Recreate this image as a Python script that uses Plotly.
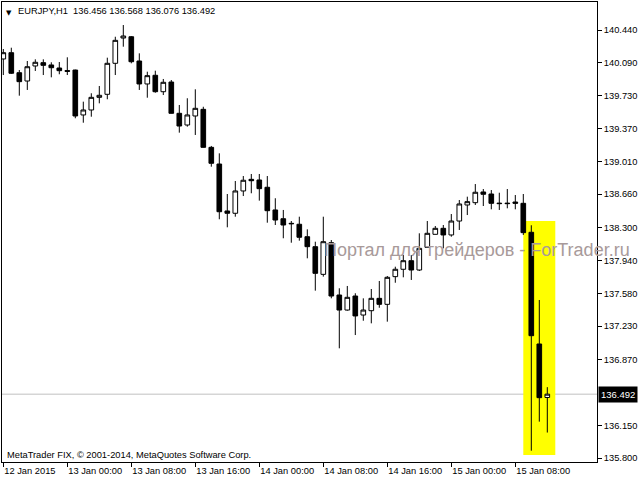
import plotly.graph_objects as go

# ---- data (EURJPY, H1), bars indexed left to right ----
bar_index = list(range(69))

opens = [140.126, 140.194, 139.977, 139.887, 140.050, 140.086, 140.061, 140.028, 140.000, 140.006,
         139.519, 139.573, 139.710, 139.743, 140.079, 140.353, 140.367, 140.104, 139.855, 139.949,
         139.771, 139.876, 139.537, 139.410, 139.508, 139.580, 139.168, 138.987, 138.478, 138.453,
         138.695, 138.821, 138.814, 138.735, 138.489, 138.394, 138.344, 138.334, 138.199, 138.091,
         137.791, 138.134, 137.567, 137.404, 137.556, 137.350, 137.397, 137.531, 137.466, 137.766,
         137.846, 137.939, 137.838, 138.084, 138.225, 138.290, 138.218, 138.369, 138.543, 138.568,
         138.684, 138.662, 138.563, 138.563, 138.575, 138.561, 138.247, 137.036, 136.456]
highs = [140.234, 140.248, 140.006, 140.104, 140.122, 140.122, 140.090, 140.093, 140.144, 140.010,
         139.663, 139.754, 139.833, 140.140, 140.367, 140.494, 140.375, 140.187, 139.988, 139.999,
         139.909, 139.898, 139.627, 139.700, 139.797, 139.608, 139.183, 139.103, 138.662, 138.803,
         138.857, 138.879, 138.879, 138.857, 138.616, 138.489, 138.369, 138.416, 138.279, 138.145,
         138.416, 138.163, 137.640, 137.665, 137.586, 137.531, 137.632, 137.719, 137.773, 137.874,
         138.001, 138.001, 138.236, 138.369, 138.315, 138.326, 138.445, 138.597, 138.633, 138.770,
         138.716, 138.705, 138.676, 138.716, 138.651, 138.662, 138.323, 137.513, 136.568]
lows = [139.952, 139.963, 139.728, 139.790, 139.996, 139.952, 139.927, 139.960, 139.952, 139.483,
        139.435, 139.500, 139.645, 139.689, 139.952, 140.259, 140.079, 139.790, 139.706, 139.760,
        139.735, 139.535, 139.327, 139.392, 139.302, 139.166, 138.958, 138.388, 138.301, 138.416,
        138.640, 138.670, 138.590, 138.351, 138.326, 138.182, 138.134, 138.156, 137.965, 137.614,
        137.766, 137.531, 136.989, 137.397, 137.133, 137.288, 137.260, 137.429, 137.278, 137.700,
        137.759, 137.730, 137.827, 138.080, 138.223, 138.073, 138.199, 138.272, 138.434, 138.543,
        138.532, 138.496, 138.489, 138.507, 138.496, 138.218, 135.879, 136.194, 136.076]
closes = [140.194, 139.971, 139.880, 140.042, 140.090, 140.057, 140.031, 139.999, 139.992, 139.508,
          139.573, 139.710, 139.732, 140.079, 140.328, 140.375, 140.096, 139.855, 139.945, 139.771,
          139.873, 139.537, 139.399, 139.519, 139.591, 139.168, 138.995, 138.470, 138.453, 138.695,
          138.811, 138.806, 138.720, 138.481, 138.380, 138.326, 138.340, 138.193, 138.091, 137.802,
          138.145, 137.556, 137.404, 137.542, 137.340, 137.404, 137.531, 137.466, 137.759, 137.846,
          137.939, 137.838, 138.073, 138.236, 138.290, 138.218, 138.369, 138.554, 138.579, 138.681,
          138.659, 138.561, 138.558, 138.558, 138.561, 138.243, 137.126, 136.454, 136.492]

time_tick_bars = [0, 8, 16, 24, 32, 40, 48, 56, 64]
time_tick_labels = ["12 Jan 2015", "13 Jan 00:00", "13 Jan 08:00", "13 Jan 16:00", "14 Jan 00:00",
                    "14 Jan 08:00", "14 Jan 16:00", "15 Jan 00:00", "15 Jan 08:00"]
price_ticks = [140.440, 140.090, 139.730, 139.370, 139.010, 138.660, 138.300, 137.940,
               137.580, 137.230, 136.870, 136.150, 135.800]
current_price = 136.492
highlight_bars = [65, 69]
highlight_prices = [135.833, 138.369]

symbol_text = "EURJPY,H1  136.456 136.568 136.076 136.492"
copyright_text = "MetaTrader FIX, © 2001-2014, MetaQuotes Software Corp."
watermark_text = "Портал для трейдеров - ForTrader.ru"

FONT = "Liberation Sans"

fig = go.Figure(go.Candlestick(
    x=bar_index, open=opens, high=highs, low=lows, close=closes,
    increasing=dict(line=dict(color="black", width=1), fillcolor="white"),
    decreasing=dict(line=dict(color="black", width=1), fillcolor="black"),
    whiskerwidth=0, hoverinfo="skip", showlegend=False,
))

fig.add_shape(type="rect", xref="x", yref="y",
              x0=highlight_bars[0], x1=highlight_bars[1],
              y0=highlight_prices[0], y1=highlight_prices[1],
              fillcolor="#ffff00", line=dict(width=0), layer="below")
fig.add_shape(type="line", xref="paper", yref="y", x0=0, x1=1,
              y0=current_price, y1=current_price,
              line=dict(color="#c0c0c0", width=1), layer="below")

ann = []
ann.append(dict(xref="paper", yref="y", x=1, y=current_price, xanchor="left", yanchor="middle",
                text=f"{current_price:.3f}", showarrow=False, bgcolor="black",
                font=dict(family=FONT, size=9.5, color="white"), borderpad=2, xshift=1))
ann.append(dict(xref="paper", yref="paper", x=0, y=1, xanchor="left", yanchor="top",
                text="▼", showarrow=False, xshift=2, yshift=-5,
                font=dict(family="DejaVu Sans", size=7, color="black")))
ann.append(dict(xref="paper", yref="paper", x=0, y=1, xanchor="left", yanchor="top",
                text=symbol_text, showarrow=False, xshift=14, yshift=-2,
                font=dict(family=FONT, size=9.3, color="black")))
ann.append(dict(xref="paper", yref="paper", x=0, y=0, xanchor="left", yanchor="bottom",
                text=copyright_text, showarrow=False, xshift=3, yshift=0,
                font=dict(family=FONT, size=9.3, color="black")))
ann.append(dict(xref="paper", yref="paper", x=(322 - 2) / 595, y=(462 - 250) / 460,
                xanchor="left", yanchor="middle", text=watermark_text, showarrow=False,
                font=dict(family=FONT, size=18, color="#a89a9a")))

fig.update_layout(
    width=640, height=480,
    margin=dict(l=2, r=43, t=2, b=18),
    paper_bgcolor="white", plot_bgcolor="white",
    boxgap=0.42, boxgroupgap=0,
    annotations=ann,
    showlegend=False,
    font=dict(family=FONT, size=9.3, color="black"),
    xaxis=dict(range=[-0.1625, 74.2125], rangeslider=dict(visible=False),
               tickmode="array", tickvals=time_tick_bars, ticktext=time_tick_labels,
               ticks="outside", ticklen=4, tickcolor="black",
               ticklabelposition="outside right",
               showline=True, mirror=True, linecolor="black", linewidth=1,
               showgrid=False, zeroline=False,
               tickfont=dict(family=FONT, size=9.3, color="black")),
    yaxis=dict(range=[135.7566, 140.7436], side="right",
               tickmode="array", tickvals=price_ticks,
               ticktext=[f"{v:.3f}" for v in price_ticks],
               ticks="outside", ticklen=4, tickcolor="black",
               showline=True, mirror=True, linecolor="black", linewidth=1,
               showgrid=False, zeroline=False,
               tickfont=dict(family=FONT, size=9.3, color="black")),
)

fig.write_html("out.html", config={"displayModeBar": False},
               post_script="document.body.style.margin='0px';document.body.style.padding='0px';")
